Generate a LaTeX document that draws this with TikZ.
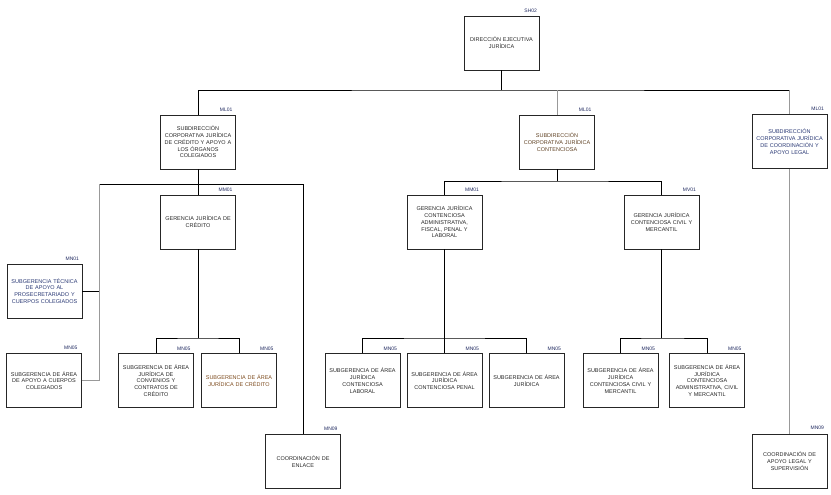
\documentclass[tikz,border=0pt]{standalone}
\usepackage{fontspec}
\setmainfont{Liberation Sans}
\usepackage{tikz}
\usetikzlibrary{positioning}
\newcommand\orgfont{\fontsize{5.5pt}{6.8pt}\selectfont}
\newcommand\tagfont{\fontsize{5pt}{6pt}\selectfont}
\definecolor{navy}{RGB}{30,40,95}
\definecolor{bluetext}{RGB}{40,55,115}
\definecolor{browntext}{RGB}{95,65,35}
\definecolor{orangetext}{RGB}{125,75,30}
\tikzstyle{soft link} = [draw=black!40]

\begin{document}
\begin{tikzpicture}[x=1pt,y=-1pt,
                      line width=0.7pt,
                      org node/.style={draw=black!85,minimum width=75pt,minimum height=54pt,
                                       text width=73pt,align=center,inner sep=1pt,
                                       font=\orgfont,text=black!85},
                      tag node/.style={font=\tagfont,text=navy,inner sep=0pt}]
  \useasboundingbox (0,0) rectangle (831,495);

        \node[org node] (dir) at (501.5,43) {DIRECCIÓN EJECUTIVA\\JURÍDICA};
        \node[org node] (sub1) at (198,142) {SUBDIRECCIÓN\\CORPORATIVA JURÍDICA\\DE CRÉDITO Y APOYO A\\LOS ÓRGANOS\\COLEGIADOS};
        \node[org node,text=browntext] (sub2) at (557,142) {SUBDIRECCIÓN\\CORPORATIVA JURÍDICA\\CONTENCIOSA};
        \node[org node,text=bluetext] (sub3) at (789.5,141.5) {SUBDIRECCIÓN\\CORPORATIVA JURÍDICA\\DE COORDINACIÓN Y\\APOYO LEGAL};

        \node[org node] (ger1) at (198,222) {GERENCIA JURÍDICA DE\\CRÉDITO};
        \node[org node] (ger2) at (444.5,222) {GERENCIA JURÍDICA\\CONTENCIOSA\\ADMINISTRATIVA,\\FISCAL, PENAL Y\\LABORAL};
        \node[org node] (ger3) at (661.5,222) {GERENCIA JURÍDICA\\CONTENCIOSA CIVIL Y\\MERCANTIL};

        \node[org node,text=bluetext] (tec) at (44.5,291) {SUBGERENCIA TÉCNICA\\DE APOYO AL\\PROSECRETARIADO Y\\CUERPOS COLEGIADOS};
        \node[org node] (apc) at (44,380.5) {SUBGERENCIA DE ÁREA\\DE APOYO A CUERPOS\\COLEGIADOS};
        \node[org node] (conv) at (156,380.5) {SUBGERENCIA DE ÁREA\\JURÍDICA DE\\CONVENIOS Y\\CONTRATOS DE\\CRÉDITO};
        \node[org node,text=orangetext] (cred) at (239,380.5) {SUBGERENCIA DE ÁREA\\JURÍDICA DE CRÉDITO};
        \node[org node] (lab) at (362.5,380.5) {SUBGERENCIA DE ÁREA\\JURÍDICA\\CONTENCIOSA\\LABORAL};
        \node[org node] (pen) at (444.5,380.5) {SUBGERENCIA DE ÁREA\\JURÍDICA\\CONTENCIOSA PENAL};
        \node[org node] (jur) at (526.5,380.5) {SUBGERENCIA DE ÁREA\\JURÍDICA};
        \node[org node] (civ) at (620.5,380.5) {SUBGERENCIA DE ÁREA\\JURÍDICA\\CONTENCIOSA CIVIL Y\\MERCANTIL};
        \node[org node] (adm) at (707,380.5) {SUBGERENCIA DE ÁREA\\JURÍDICA\\CONTENCIOSA\\ADMINISTRATIVA, CIVIL\\Y MERCANTIL};
        \node[org node] (enl) at (303,461.5) {COORDINACIÓN DE\\ENLACE};
        \node[org node] (sup) at (789.5,461) {COORDINACIÓN DE\\APOYO LEGAL Y\\SUPERVISIÓN};

        % level tags
        \node[tag node,above left=3pt and 2pt of dir.north east] (dir-tag) {SH02};
        \node[tag node,above left=3pt and 3pt of sub1.north east] (sub1-tag) {ML01};
        \node[tag node,above left=3pt and 3pt of sub2.north east] (sub2-tag) {ML01};
        \node[tag node,above left=3pt and 3pt of sub3.north east] (sub3-tag) {ML01};
        \node[tag node,above left=3pt and 3pt of ger1.north east] (ger1-tag) {MM01};
        \node[tag node,above left=3pt and 3pt of ger2.north east] (ger2-tag) {MM01};
        \node[tag node,above left=3pt and 3pt of ger3.north east] (ger3-tag) {MV01};
        \node[tag node,above left=3pt and 3pt of tec.north east] (tec-tag) {MN01};
        \node[tag node,above left=3pt and 4pt of apc.north east] (apc-tag) {MN05};
        \node[tag node,above left=2pt and 3pt of conv.north east] (conv-tag) {MN05};
        \node[tag node,above left=2pt and 3pt of cred.north east] (cred-tag) {MN05};
        \node[tag node,above left=2pt and 3pt of lab.north east] (lab-tag) {MN05};
        \node[tag node,above left=2pt and 3pt of pen.north east] (pen-tag) {MN05};
        \node[tag node,above left=2pt and 3pt of jur.north east] (jur-tag) {MN05};
        \node[tag node,above left=2pt and 3pt of civ.north east] (civ-tag) {MN05};
        \node[tag node,above left=2pt and 3pt of adm.north east] (adm-tag) {MN05};
        \node[tag node,above left=3pt and 3pt of enl.north east] (enl-tag) {MN09};
        \node[tag node,above left=4pt and 3pt of sup.north east] (sup-tag) {MN09};

        \coordinate (b0) at (501.5,90);
        \coordinate (b1w) at (99,184);
        \coordinate (b1e) at (303,184);
        \coordinate (b2) at (198,338);
        \coordinate (b3) at (557,181);
        \coordinate (b4) at (444.5,338);
        \coordinate (b5) at (661.5,338);

        \draw (dir.south) -- (b0);
        \draw (sub1.north) |- (b0) -| (sub3.north |- b0);
        \path[soft link]
        (sub2.north) edge (sub2.north |- b0)
        (sub3.north) edge (sub3.north |- b0)
        (sub3) edge (sup)
        ;

        \draw (sub1) -- (ger1);
        \draw (tec.east) -| (b1w) -- (b1e) -- (enl.north);
        \draw[soft link] (apc.east) -| (b1w);
        \draw (ger1.south) -- (b2);
        \draw (conv.north) |- (b2) -| (cred.north);

        \draw (sub2.south) -- (b3);
        \draw (ger2.north) |- (b3) -| (ger3.north);
        \draw (ger2) -- (pen);
        \draw (lab.north) |- (b4) -| (jur.north);
        \draw (ger3.south) -- (b5);
        \draw (civ.north) |- (b5) -| (adm.north);
    \end{tikzpicture}
\end{document}
